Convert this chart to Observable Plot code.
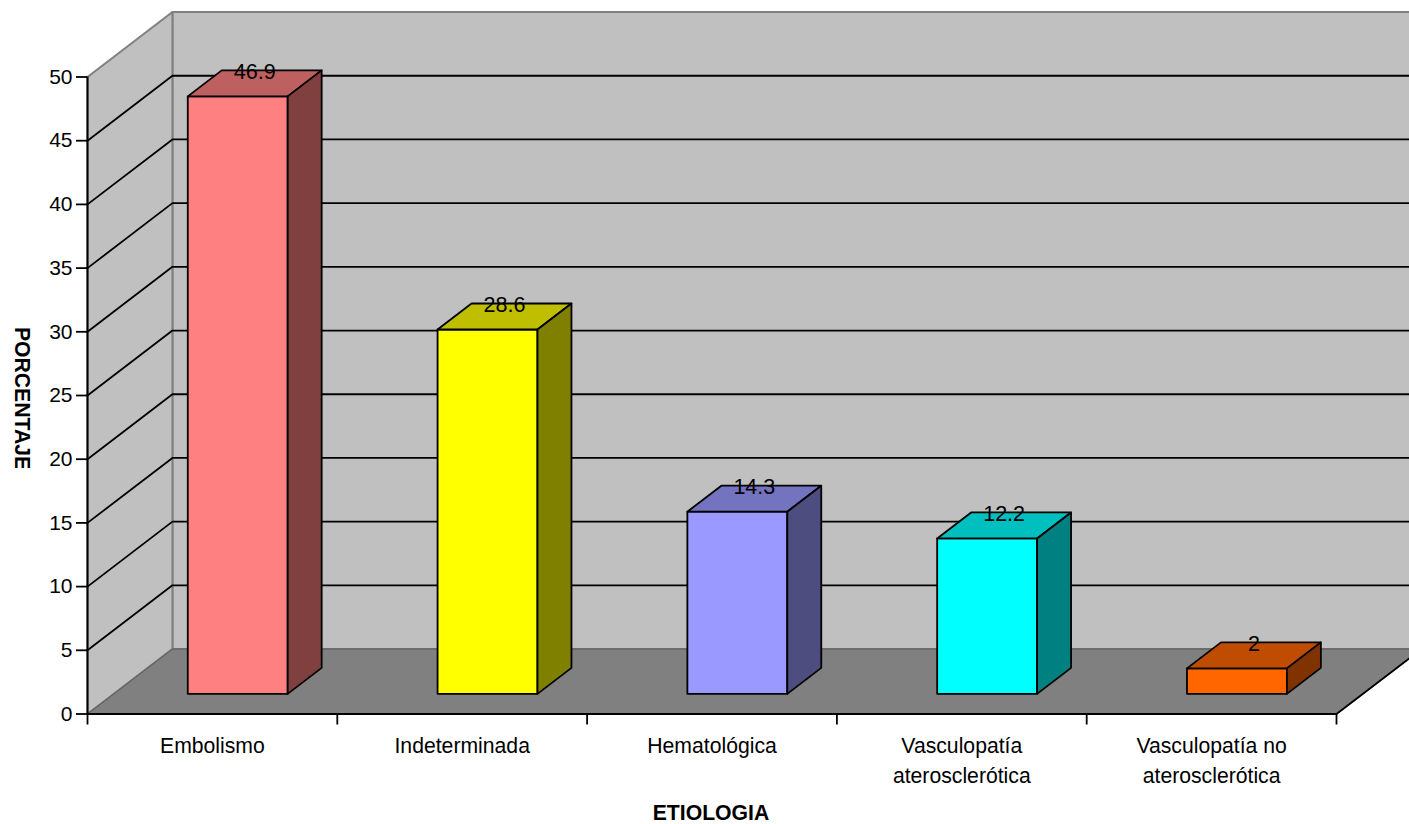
<!DOCTYPE html>
<html lang="es">
<head>
<meta charset="utf-8">
<script src="https://cdn.jsdelivr.net/npm/d3@7"></script>
<script src="https://cdn.jsdelivr.net/npm/@observablehq/plot@0.6"></script>
<style>
  html, body { margin: 0; padding: 0; background: #fff; overflow: hidden; }
</style>
</head>
<body>
<div id="chart"></div>
<script>
// Etiología: percentage per category
const categories = [
  "Embolismo",
  "Indeterminada",
  "Hematológica",
  "Vasculopatía\naterosclerótica",
  "Vasculopatía no\naterosclerótica"
];
const values = [46.9, 28.6, 14.3, 12.2, 2];
const labels = ["46.9", "28.6", "14.3", "12.2", "2"];
const yTicks = [0, 5, 10, 15, 20, 25, 30, 35, 40, 45, 50];
const xBounds = [0, 1, 2, 3, 4, 5];

// Face colours per bar: front, top, side
const frontColors = ["#FF8080", "#FFFF00", "#9999FF", "#00FFFF", "#FF6600"];
const topColors   = ["#BF6060", "#BFBF00", "#7373BF", "#00BFBF", "#BF4C00"];
const sideColors  = ["#804040", "#808000", "#4D4D80", "#008080", "#803300"];

// Oblique projection of the chart's depth, expressed in axis units
const depthX = 0.34;
const depthY = 5.1;
const barNear = 0.31;
const barFar = 0.71;
const barHalf = 0.2;
const barCenter = 0.496;
const project = (x, y, z) => ({x: x + z * depthX, y: y + z * depthY});

const xMax = xBounds[xBounds.length - 1];
const yMax = yTicks[yTicks.length - 1];

// A closed, filled polygon in axis units
const face = (pts, fill, stroke = "black", strokeWidth = 1.8) =>
  Plot.line(pts, {x: "x", y: "y", fill, stroke, strokeWidth, curve: "linear-closed"});
const segment = (pts, stroke = "black", strokeWidth = 1.8) =>
  Plot.line(pts, {x: "x", y: "y", stroke, strokeWidth});

const backWall = face(
  [project(0, 0, 1), project(xMax, 0, 1), project(xMax, yMax, 1), project(0, yMax, 1)],
  "#C0C0C0", "#808080", 2);
const sideWall = face(
  [project(0, 0, 0), project(0, 0, 1), project(0, yMax, 1), project(0, yMax, 0)],
  "#C0C0C0", "#808080", 2);
const floor = face(
  [project(0, 0, 0), project(xMax, 0, 0), project(xMax, 0, 1), project(0, 0, 1)],
  "#808080", "#666666", 1.5);

// Gridlines run along the side wall and across the back wall
const gridLines = yTicks.slice(1, -1).flatMap((v) => [
  segment([project(0, v, 0), project(0, v, 1), project(xMax, v, 1)])
]);

// Each bar is three faces: front, top, side
const bars = values.flatMap((v, i) => {
  const l = i + barCenter - barHalf;
  const r = i + barCenter + barHalf;
  return [
    face([project(l, 0, barNear), project(r, 0, barNear), project(r, v, barNear), project(l, v, barNear)], frontColors[i]),
    face([project(l, v, barNear), project(r, v, barNear), project(r, v, barFar), project(l, v, barFar)], topColors[i]),
    face([project(r, 0, barNear), project(r, 0, barFar), project(r, v, barFar), project(r, v, barNear)], sideColors[i])
  ];
});

const valueLabels = Plot.text(values.map((v, i) => ({
  ...project(i + barCenter, v, 0.51),
  y: project(0, v, barFar).y,
  label: labels[i]
})), {x: "x", y: "y", text: "label", fontSize: 21.5, dy: 1.5, fill: "black", textAnchor: "middle", lineAnchor: "middle"});

const svg = Plot.plot({
  width: 1409,
  height: 824,
  marginLeft: 87,
  marginRight: 73,
  marginTop: 76.5,
  marginBottom: 110.5,
  style: {fontFamily: "'Liberation Sans', Arial, sans-serif", background: "white", color: "black"},
  x: {domain: [0, xMax], axis: null},
  y: {domain: [0, yMax], axis: null},
  marks: [
    backWall,
    sideWall,
    floor,
    segment([project(xMax, 0, 0), project(xMax, 0, 1)]),
    gridLines,
    bars,
    valueLabels,
    Plot.axisY(yTicks, {
      anchor: "left", label: null, tickSize: 11, tickPadding: 4, fontSize: 21,
      strokeWidth: 1.8, stroke: "black", fill: "black"
    }),
    Plot.axisX(xBounds, {
      anchor: "bottom", label: null, tickSize: 11, strokeWidth: 1.8, stroke: "black", fill: "none"
    }),
    Plot.ruleX([0], {y1: 0, y2: yMax, stroke: "black", strokeWidth: 2}),
    Plot.ruleY([0], {x1: 0, x2: xMax, stroke: "black", strokeWidth: 2.2}),
    // Category names below the axis
    Plot.text(categories, {
      x: (d, i) => i + 0.5,
      text: (d) => d,
      frameAnchor: "bottom",
      dy: 18,
      lineAnchor: "top",
      lineHeight: 1.42,
      fontSize: 21.2,
      fill: "black"
    }),
    // Axis titles
    Plot.text(["ETIOLOGIA"], {
      frameAnchor: "bottom", dx: -1, dy: 99, x: () => xMax / 2,
      text: (d) => d, fontSize: 21.2, fontWeight: "bold", fill: "black", lineAnchor: "middle"
    }),
    Plot.text(["PORCENTAJE"], {
      frameAnchor: "left", dx: -66, dy: 3, textAnchor: "middle",
      text: (d) => d, rotate: 90, fontSize: 21.2, fontWeight: "bold", fill: "black"
    })
  ]
});

// The vertical title's box is shorter than the word, so its tail is cut off.
// The clip sits on a wrapper because the mark's own group carries a translation.
const clipId = "ytitle-clip";
const root = d3.select(svg);
root.append("clipPath").attr("id", clipId)
  .append("rect").attr("x", 0).attr("y", 0).attr("width", 60).attr("height", 468);
root.selectAll("text")
  .filter(function () { return this.textContent === "PORCENTAJE"; })
  .each(function () {
    const group = this.parentNode;
    const wrapper = document.createElementNS("http://www.w3.org/2000/svg", "g");
    wrapper.setAttribute("clip-path", `url(#${clipId})`);
    group.parentNode.insertBefore(wrapper, group);
    wrapper.appendChild(group);
  });

document.getElementById("chart").append(svg);
</script>
</body>
</html>
